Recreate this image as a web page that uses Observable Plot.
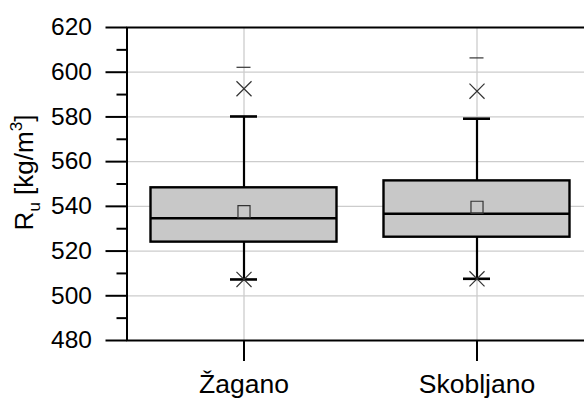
<!DOCTYPE html>
<html>
<head>
<meta charset="utf-8">
<script src="https://cdn.jsdelivr.net/npm/d3@7"></script>
<script src="https://cdn.jsdelivr.net/npm/@observablehq/plot@0.6"></script>
<style>
  html, body { margin: 0; padding: 0; background: #fff; }
  #chart svg { display: block; font-family: "Liberation Sans", Arial, sans-serif; }
</style>
</head>
<body>
<div id="chart"></div>
<script>
// ---- data ----
const categories = ["Žagano", "Skobljano"];
const q1 = [524.0, 526.2];
const median = [534.7, 536.7];
const q3 = [548.3, 551.4];
const mean = [537.6, 539.6];
const whiskerLow = [507.3, 507.6];
const whiskerHigh = [580.2, 579.2];
const p1 = [507.3, 507.6];
const p99 = [592.6, 591.5];
const maxVal = [602.2, 606.4];
const majorTicks = [480, 500, 520, 540, 560, 580, 600, 620];
const minorTicks = [490, 510, 530, 550, 570, 590, 610];
const gridTicks = [500, 520, 540, 560, 580, 600];

const rows = categories.map((c, i) => ({
  cat: c, q1: q1[i], median: median[i], q3: q3[i], mean: mean[i],
  lo: whiskerLow[i], hi: whiskerHigh[i], p1: p1[i], p99: p99[i], max: maxVal[i]
}));

const boxInset = 23.5, capInset = 103, dashInset = 109.5;

const chart = Plot.plot({
  width: 584,
  height: 400,
  marginLeft: 126.5,
  marginRight: -8.5,
  marginTop: 27,
  marginBottom: 60,
  style: {fontFamily: "'Liberation Sans', Arial, sans-serif", color: "black", background: "white"},
  x: {type: "band", domain: categories, range: [126.5, 592.5], padding: 0},
  y: {domain: [480, 620]},
  marks: [
    Plot.gridY(gridTicks, {stroke: "#cccccc", strokeOpacity: 1, strokeWidth: 1.3}),
    Plot.gridX(categories, {stroke: "#cccccc", strokeOpacity: 1, strokeWidth: 1.3}),
    Plot.ruleX(rows, {x: "cat", y1: "lo", y2: "q1", stroke: "black", strokeWidth: 2.2}),
    Plot.ruleX(rows, {x: "cat", y1: "q3", y2: "hi", stroke: "black", strokeWidth: 2.2}),
    Plot.tickY(rows, {x: "cat", y: "lo", stroke: "black", strokeWidth: 2.6, insetLeft: capInset, insetRight: capInset}),
    Plot.tickY(rows, {x: "cat", y: "hi", stroke: "black", strokeWidth: 2.6, insetLeft: capInset, insetRight: capInset}),
    Plot.barY(rows, {x: "cat", y1: "q1", y2: "q3", fill: "#c8c8c8", stroke: "black", strokeWidth: 2.4, insetLeft: boxInset, insetRight: boxInset}),
    Plot.tickY(rows, {x: "cat", y: "median", stroke: "black", strokeWidth: 2.6, insetLeft: boxInset, insetRight: boxInset}),
    Plot.dot(rows, {x: "cat", y: "mean", symbol: "square", r: 6.8, stroke: "#333", strokeWidth: 1.2, fill: "none"}),
    Plot.dot(rows, {x: "cat", y: "p99", symbol: "times", r: 6.9, stroke: "#333", strokeWidth: 1.2}),
    Plot.dot(rows, {x: "cat", y: "p1", symbol: "times", r: 6.9, stroke: "#333", strokeWidth: 1.2}),
    Plot.tickY(rows, {x: "cat", y: "max", stroke: "#333", strokeWidth: 1.2, insetLeft: dashInset, insetRight: dashInset}),
    Plot.frame({stroke: "black", strokeWidth: 2}),
    Plot.axisY({ticks: majorTicks, tickSize: 21, tickPadding: 14, fontSize: 24.5, strokeWidth: 2, label: null}),
    Plot.axisY({ticks: minorTicks, tickSize: 10, strokeWidth: 2, fill: "none", label: null}),
    Plot.axisX({tickSize: 21, tickPadding: 12.5, fontSize: 26.5, strokeWidth: 2, label: null})
  ]
});

document.getElementById("chart").appendChild(chart);

// y-axis title with subscript and superscript
const t = d3.select(chart).append("text")
  .attr("transform", "translate(33,172.5) rotate(-90)")
  .attr("text-anchor", "middle")
  .attr("font-size", 26)
  .attr("fill", "black");
t.append("tspan").text("R");
t.append("tspan").attr("font-size", 17).attr("dy", 7).text("u");
t.append("tspan").attr("dy", -7).text(" [kg/m");
t.append("tspan").attr("font-size", 17).attr("dy", -11).text("3");
t.append("tspan").attr("dy", 11).text("]");
</script>
</body>
</html>
